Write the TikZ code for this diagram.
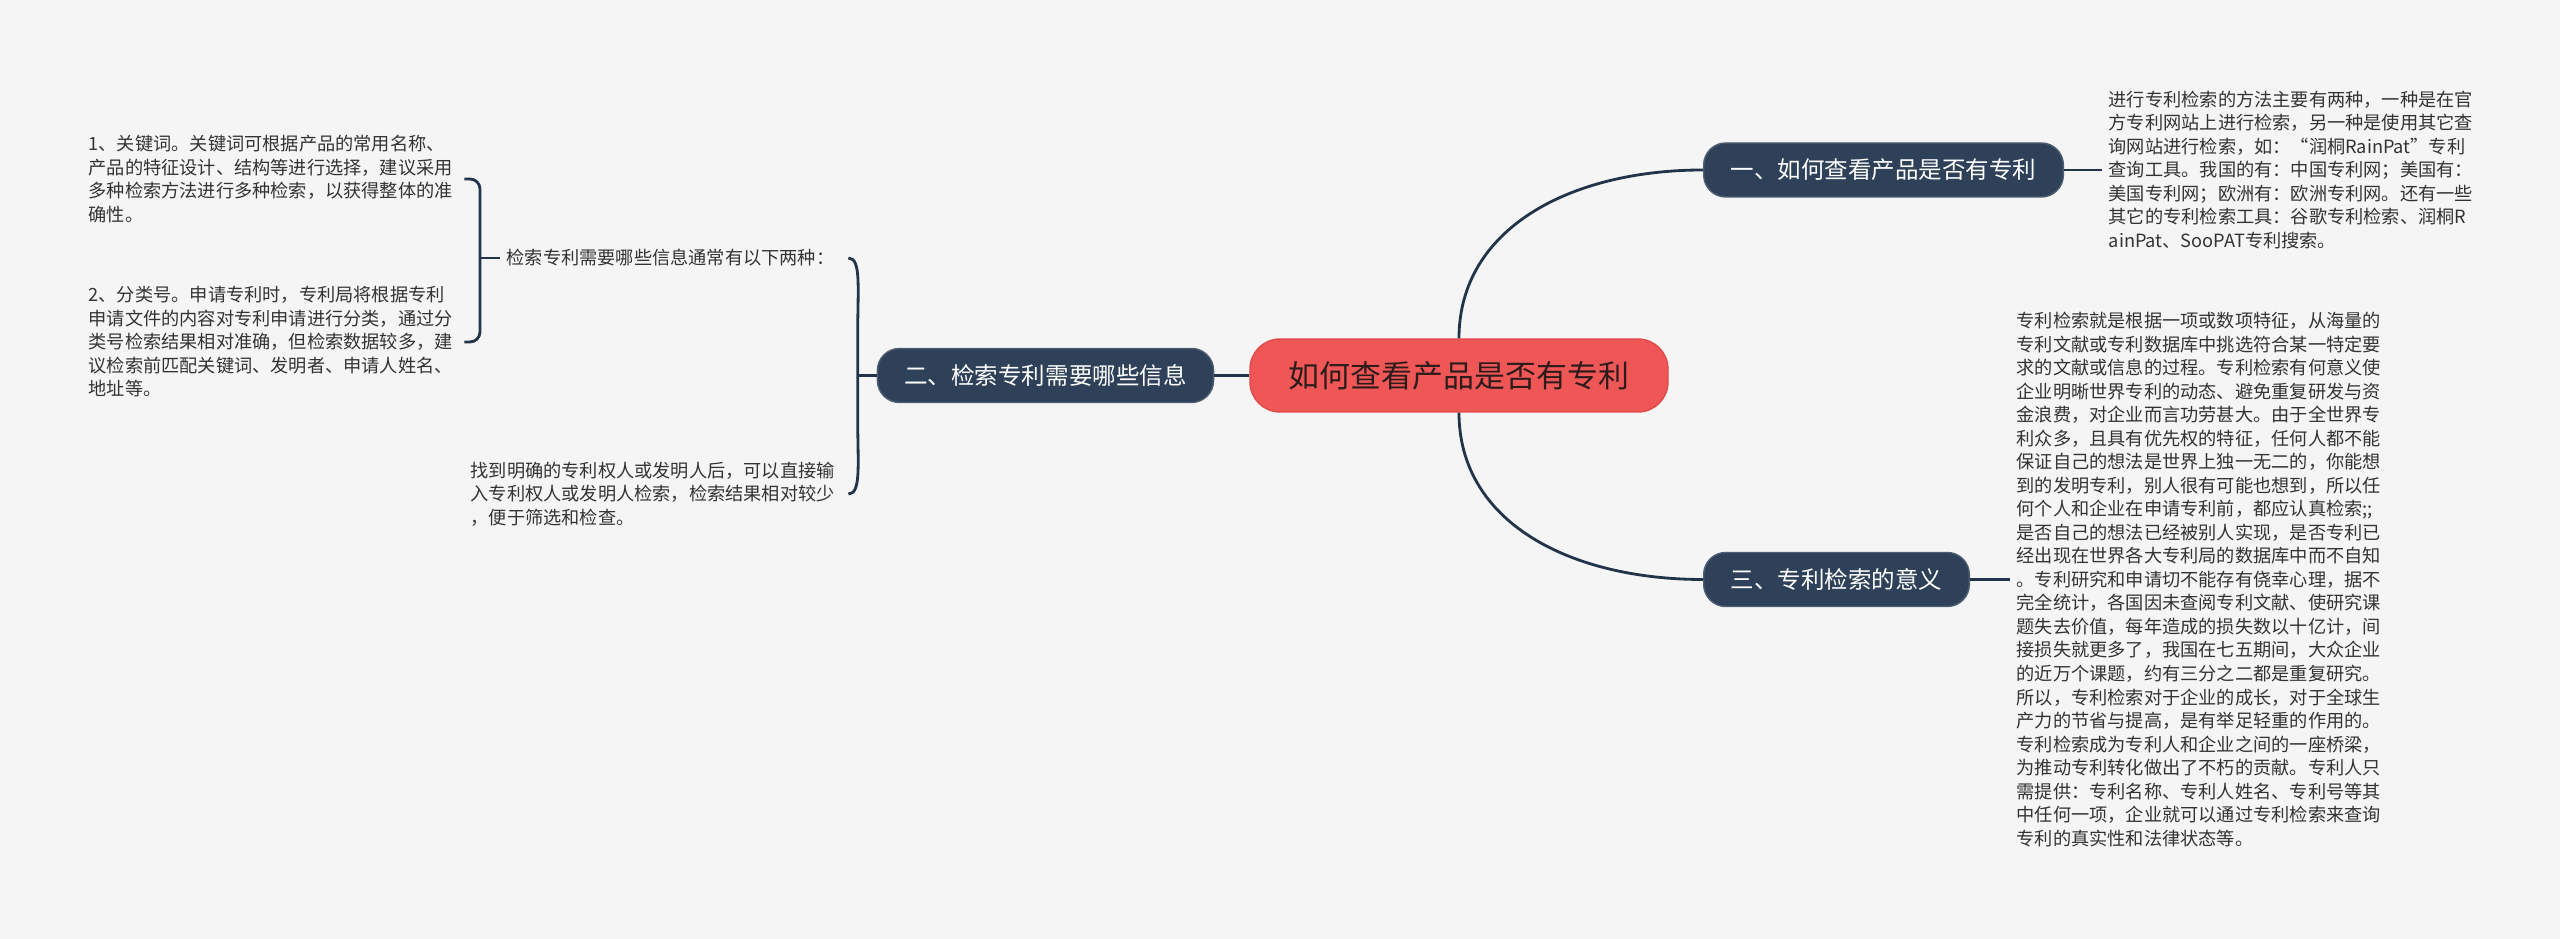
\documentclass[tikz,border=0pt]{standalone}
\usepackage{fontspec}
\setmainfont{Noto Sans CJK SC}
\usetikzlibrary{positioning}
\definecolor{PageGray}{HTML}{F5F5F5}
\definecolor{RootRed}{HTML}{EF5757}
\definecolor{RootEdge}{HTML}{E04A4A}
\definecolor{RootInk}{HTML}{2E1C1C}
\definecolor{BranchNavy}{HTML}{2E4159}
\definecolor{LinkNavy}{HTML}{22344A}
\definecolor{NoteInk}{HTML}{333333}

\begin{document}
\begin{tikzpicture}[
    node distance=0.38cm,
    topic/.style={draw=RootEdge,line width=0.4pt,fill=RootRed,rounded corners=0.3cm,minimum width=4.18cm,minimum height=0.73cm,text=RootInk,font=\fontsize{8.8pt}{10pt}\selectfont},
    branch/.style={draw=BranchNavy!85!white,line width=0.4pt,fill=BranchNavy,rounded corners=0.22cm,minimum height=0.54cm,inner xsep=0.27cm,inner ysep=0pt,text=white,font=\fontsize{6.69pt}{8pt}\selectfont},
    note/.style={inner xsep=0.06cm,inner ysep=0pt,align=left,anchor=west,text=NoteInk,font=\fontsize{5.18pt}{6.69pt}\selectfont},
    link/.style={draw=LinkNavy,line width=0.8pt},
    hook/.style={link,rounded corners=0.1cm}
  ]
    \useasboundingbox (-14.59,3.755) rectangle (11.01,-5.635);
    \fill[PageGray] (-14.59,3.755) rectangle (11.01,-5.635);

    % centre and the three branches
    \node[topic] (root) at (0,0) {如何查看产品是否有专利};
    \node[branch,anchor=west] (n1) at (2.44,2.055) {一、如何查看产品是否有专利};
    \node[branch,left=0.35cm of root] (n2) {二、检索专利需要哪些信息};
    \node[branch,anchor=west] (n3) at (2.44,-2.04) {三、专利检索的意义};
    \draw[link] (root.north) .. controls +(0,1.09) and +(-1.34,0) .. (n1.west);
    \draw[link] (root.south) .. controls +(0,-1.09) and +(-1.34,0) .. (n3.west);
    \draw[link] (root.west) -- (n2.east);

    % right side notes
    \node[note,text width=3.70cm,right=0.38cm of n1] (t1) {进行专利检索的方法主要有两种，一种是在官\\方专利网站上进行检索，另一种是使用其它查\\询网站进行检索，如：“润桐RainPat”专利\\查询工具。我国的有：中国专利网；美国有：\\美国专利网；欧洲有：欧洲专利网。还有一些\\其它的专利检索工具：谷歌专利检索、润桐R\\ainPat、SooPAT专利搜索。};
    \node[note,text width=3.70cm,right=0.40cm of n3] (t3) {专利检索就是根据一项或数项特征，从海量的\\专利文献或专利数据库中挑选符合某一特定要\\求的文献或信息的过程。专利检索有何意义使\\企业明晰世界专利的动态、避免重复研发与资\\金浪费，对企业而言功劳甚大。由于全世界专\\利众多，且具有优先权的特征，任何人都不能\\保证自己的想法是世界上独一无二的，你能想\\到的发明专利，别人很有可能也想到，所以任\\何个人和企业在申请专利前，都应认真检索;;\\是否自己的想法已经被别人实现，是否专利已\\经出现在世界各大专利局的数据库中而不自知\\。专利研究和申请切不能存有侥幸心理，据不\\完全统计，各国因未查阅专利文献、使研究课\\题失去价值，每年造成的损失数以十亿计，间\\接损失就更多了，我国在七五期间，大众企业\\的近万个课题，约有三分之二都是重复研究。\\所以，专利检索对于企业的成长，对于全球生\\产力的节省与提高，是有举足轻重的作用的。\\专利检索成为专利人和企业之间的一座桥梁，\\为推动专利转化做出了不朽的贡献。专利人只\\需提供：专利名称、专利人姓名、专利号等其\\中任何一项，企业就可以通过专利检索来查询\\专利的真实性和法律状态等。};
    \draw[link] (n1.east) -- (t1.west);
    \draw[link] (n3.east) -- (t3.west);

    % left side notes
    \node[note,text width=3.35cm] (m) at (-9.59,1.175) {检索专利需要哪些信息通常有以下两种：};
    \node[note,text width=3.71cm] (bl) at (-9.95,-1.185) {找到明确的专利权人或发明人后，可以直接输\\入专利权人或发明人检索，检索结果相对较少\\，便于筛选和检查。};
    \node[note,text width=3.69cm] (k1) at (-13.77,1.965) {1、关键词。关键词可根据产品的常用名称、\\产品的特征设计、结构等进行选择，建议采用\\多种检索方法进行多种检索，以获得整体的准\\确性。};
    \node[note,text width=3.69cm] (k2) at (-13.77,0.335) {2、分类号。申请专利时，专利局将根据专利\\申请文件的内容对专利申请进行分类，通过分\\类号检索结果相对准确，但检索数据较多，建\\议检索前匹配关键词、发明者、申请人姓名、\\地址等。};

    \coordinate[left=0.19cm of n2] (rb);
    \draw[link] (m.east) .. controls +(0.13,0) and +(0,0.45) .. ([yshift=-0.75cm]rb |- m.east) -- ([yshift=0.75cm]rb |- bl.east) .. controls +(0,-0.45) and +(0.13,0) .. (bl.east);
    \draw[link] (rb) -- (n2.west);

    \coordinate[left=0.20cm of m] (lb);
    \draw[hook] (k1.east) -| (lb) |- (k2.east);
    \draw[link] (lb) -- (m.west);
  \end{tikzpicture}
\end{document}
